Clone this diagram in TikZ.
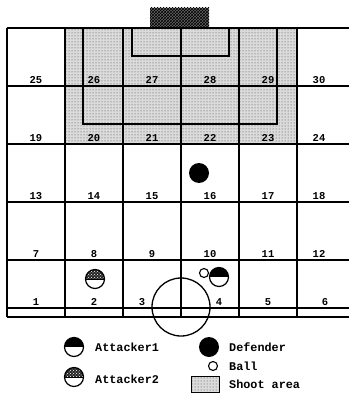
\documentclass[tikz,border=0pt]{standalone}
\usepackage{fontspec}
\setmonofont{Liberation Mono}
\usetikzlibrary{patterns}
\begin{document}
\begin{tikzpicture}[x=1pt,y=-1pt,
  gridline/.style={line width=1.1pt},
  boxline/.style={line width=1.6pt},
  shade/.style={fill=black!14, postaction={pattern=dots, pattern color=black!75}},
  lab/.style={font=\ttfamily\bfseries\fontsize{10.5}{12}\selectfont, inner sep=0},
  leg/.style={font=\ttfamily\bfseries\fontsize{11.8}{13}\selectfont, inner sep=0, anchor=west},
  defender/.style={circle, fill=black, minimum size=20pt, inner sep=0},
  ball/.style={circle, draw, line width=1.1pt, minimum size=9pt, inner sep=0},
  att1/.style={circle, draw, line width=1.2pt, minimum size=19pt, inner sep=0,
    path picture={\fill (path picture bounding box.west) rectangle (path picture bounding box.north east);}},
  att2/.style={circle, draw, line width=1.2pt, minimum size=19pt, inner sep=0,
    path picture={\fill[black!85] (path picture bounding box.west) rectangle (path picture bounding box.north east);
      \fill[pattern=crosshatch dots, pattern color=white] (path picture bounding box.west) rectangle (path picture bounding box.north east);
      \draw[line width=1pt] (path picture bounding box.west) -- (path picture bounding box.east);}}
]
\useasboundingbox (0,0) rectangle (349,396);
% shoot area
\fill[shade] (65,28) rectangle (297,144);
% grid
\foreach \y in {28,86,144,202,260,308,317} \draw[gridline] (7,\y) -- (349,\y);
\foreach \x in {7,65,123,181,239,297} \draw[gridline] (\x,28) -- (\x,317);
% penalty box and goal area
\draw[boxline] (83,28) -- (83,124) -- (277,124) -- (277,28);
\draw[boxline] (132,28) -- (132,56) -- (229,56) -- (229,28);
% goal
\fill[black!60] (150,8) rectangle (209,27);
\fill[pattern=crosshatch, pattern color=black] (150,8) rectangle (209,27);
% labels
\node[lab] (l25) at (36,80) {25};
\node[lab] (l26) at (94,80) {26};
\node[lab] (l27) at (152,80) {27};
\node[lab] (l28) at (210,80) {28};
\node[lab] (l29) at (268,80) {29};
\node[lab] (l30) at (319,80) {30};
\node[lab] (l19) at (36,138) {19};
\node[lab] (l20) at (94,138) {20};
\node[lab] (l21) at (152,138) {21};
\node[lab] (l22) at (210,138) {22};
\node[lab] (l23) at (268,138) {23};
\node[lab] (l24) at (319,138) {24};
\node[lab] (l13) at (36,196) {13};
\node[lab] (l14) at (94,196) {14};
\node[lab] (l15) at (152,196) {15};
\node[lab] (l16) at (210,196) {16};
\node[lab] (l17) at (268,196) {17};
\node[lab] (l18) at (319,196) {18};
\node[lab] (l7) at (36,254) {7};
\node[lab] (l8) at (94,254) {8};
\node[lab] (l9) at (152,254) {9};
\node[lab] (l10) at (210,254) {10};
\node[lab] (l11) at (268,254) {11};
\node[lab] (l12) at (319,254) {12};
\node[lab] (l1) at (36,302) {1};
\node[lab] (l2) at (94,302) {2};
\node[lab] (l3) at (142,302) {3};
\node[lab] (l4) at (219,302) {4};
\node[lab] (l5) at (268,302) {5};
\node[lab] (l6) at (325,302) {6};
% centre circle
\draw[line width=1.3pt] (181,307) circle[radius=29];
% players
\node[defender] (def) at (199,173) {};
\node[att2] (a2) at (95,279) {};
\node[att1] (a1) at (219,277) {};
\node[ball] (b) at (204,273) {};
% legend
\node[att1] (ka1) at (74,347) {};
\node[leg] (ta1) at (95,347) {Attacker1};
\node[att2] (ka2) at (74,377) {};
\node[leg] (ta2) at (95,379) {Attacker2};
\node[defender] (kd) at (209,347) {};
\node[leg] (td) at (229,347) {Defender};
\node[ball] (kb) at (213,366) {};
\node[leg] (tb) at (229,366) {Ball};
\draw[shade, draw=black, thin] (191,376) rectangle (219,392);
\node[leg] (ts) at (229,384) {Shoot area};
\end{tikzpicture}
\end{document}
